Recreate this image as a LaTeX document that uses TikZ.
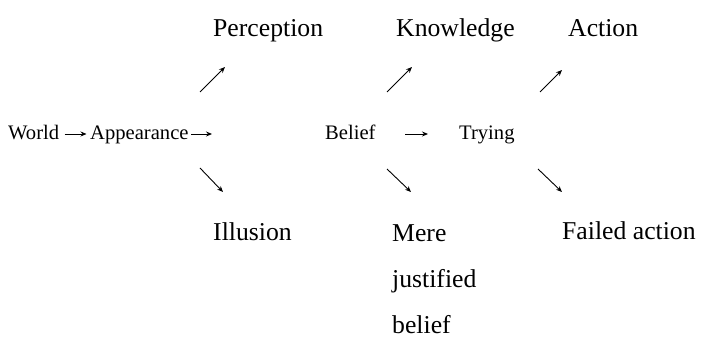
\documentclass[tikz,border=0pt]{standalone}
\usepackage{fontspec}
\setmainfont{Liberation Serif}
\usetikzlibrary{arrows.meta}
\begin{document}
\begin{tikzpicture}[x=1pt,y=1pt,
  lbl/.style={inner sep=0pt, anchor=base west, font=\fontsize{25.7}{30}\selectfont},
  main/.style={inner sep=0pt, anchor=base west, font=\fontsize{20.6}{24}\selectfont},
  arr/.style={line width=0.9pt, -{Stealth[length=6pt,width=5pt,inset=2pt]}}]
\useasboundingbox (0,0) rectangle (705,343);
% main line
\node[main] (world) at (8,203) {World};
\node[main] (appearance) at (90,203) {Appearance};
\node[main] (belief) at (325,203) {Belief};
\node[main] (trying) at (459,203) {Trying};
% upper row
\node[lbl] (perception) at (213,306) {Perception};
\node[lbl] (knowledge) at (396,306) {Knowledge};
\node[lbl] (action) at (568,306) {Action};
% lower row
\node[lbl] (illusion) at (213,102) {Illusion};
\node[lbl, align=left] (mere) at (392,9) {Mere\\[16pt]justified\\[16pt]belief};
\node[lbl] (failed) at (562,103) {Failed action};
% connector end points
\coordinate (a1s) at (64.5,209); \coordinate (a1e) at (86.5,209);
\coordinate (a2s) at (191,209); \coordinate (a2e) at (212,209);
\coordinate (a3s) at (405,209); \coordinate (a3e) at (428,209);
\coordinate (u1s) at (200,251); \coordinate (u1e) at (225,276);
\coordinate (u2s) at (387,251); \coordinate (u2e) at (412,276);
\coordinate (u3s) at (540,251); \coordinate (u3e) at (562,273);
\coordinate (d1s) at (200,175); \coordinate (d1e) at (223,151);
\coordinate (d2s) at (387,174); \coordinate (d2e) at (411,151);
\coordinate (d3s) at (538,174); \coordinate (d3e) at (562,151);
\draw[arr] (a1s) -- (a1e);
\draw[arr] (a2s) -- (a2e);
\draw[arr] (a3s) -- (a3e);
\draw[arr] (u1s) -- (u1e);
\draw[arr] (u2s) -- (u2e);
\draw[arr] (u3s) -- (u3e);
\draw[arr] (d1s) -- (d1e);
\draw[arr] (d2s) -- (d2e);
\draw[arr] (d3s) -- (d3e);
\end{tikzpicture}
\end{document}
